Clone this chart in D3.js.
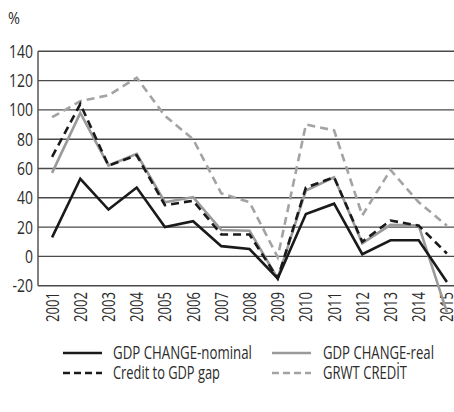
<!DOCTYPE html>
<html>
<head>
<meta charset="utf-8">
<script src="https://cdn.jsdelivr.net/npm/d3@7"></script>
<style>
  html, body { margin: 0; padding: 0; background: #fff; }
  svg { display: block; }
  text { font-family: "Open Sans", "Noto Sans", sans-serif; fill: #2b2b2b; }
</style>
</head>
<body>
<svg id="chart" width="454" height="412"></svg>
<script>
const years = ["2001","2002","2003","2004","2005","2006","2007","2008","2009","2010","2011","2012","2013","2014","2015"];
const gdpNominal = [13, 53, 32, 47, 20, 24, 7, 5, -15, 29, 36, 1.5, 11, 11, -17.5];
const gdpReal    = [57, 98, 62, 70, 37, 40.5, 18, 17.5, -15, 45, 54, 9, 21.5, 21, -38];
const creditGap  = [68, 104, 62, 69, 35, 38, 15, 15, -15, 47, 54, 10, 24.5, 21, 2];
const grwtCredit = [95, 106, 110, 122, 96, 80, 43, 37, -0.5, 90, 86, 28, 59, 37, 21];
const yTicks = [-20, 0, 20, 40, 60, 80, 100, 120, 140];
const seriesNames = ["GDP CHANGE-nominal", "GDP CHANGE-real", "Credit to GDP gap", "GRWT CREDİT"];

const series = [
  { name: seriesNames[0], values: gdpNominal, color: "#1a1a1a", dash: null },
  { name: seriesNames[1], values: gdpReal,    color: "#9a9a9a", dash: null },
  { name: seriesNames[2], values: creditGap,  color: "#1a1a1a", dash: "8,5" },
  { name: seriesNames[3], values: grwtCredit, color: "#a3a3a3", dash: "8,5" }
];

const svg = d3.select("#chart");
const plotLeft = 38, plotRight = 461, plotTop = 51.3, plotBottom = 285.7;

const x = d3.scalePoint().domain(years).range([plotLeft, plotRight]).padding(0.5);
const y = d3.scaleLinear().domain([-20, 140]).range([plotBottom, plotTop]);

// helper: measure a string's width at a font size
function measure(str, size) {
  const t = svg.append("text").attr("font-size", size).text(str);
  const w = t.node().getComputedTextLength();
  t.remove();
  return w;
}

// gridlines
svg.append("g").selectAll("line").data(yTicks).join("line")
  .attr("x1", plotLeft).attr("x2", plotRight)
  .attr("y1", d => y(d)).attr("y2", d => y(d))
  .attr("stroke", "#4a4a4a").attr("stroke-width", 1.4);

// left axis line
svg.append("line").attr("x1", plotLeft).attr("x2", plotLeft)
  .attr("y1", y(140)).attr("y2", y(-20))
  .attr("stroke", "#4a4a4a").attr("stroke-width", 1.4);

// y tick labels (condensed)
const yFont = 18;
const ySx = 24 / measure("140", yFont);
svg.append("g").selectAll("text").data(yTicks).join("text")
  .attr("transform", d => `translate(33,${y(d)}) scale(${ySx},1)`)
  .attr("dy", "0.36em")
  .attr("text-anchor", "end")
  .attr("font-size", yFont)
  .text(d => d);

// % label
const pSx = 12 / measure("%", 17);
svg.append("text").attr("transform", `translate(8,24) scale(${pSx},1)`)
  .attr("font-size", 17).text("%");

// x tick labels (rotated, condensed)
const xFont = 18;
const xSx = 30 / measure("2001", xFont);
svg.append("g").selectAll("text").data(years).join("text")
  .attr("transform", d => `translate(${x(d)},292) rotate(-90) scale(${xSx},1)`)
  .attr("text-anchor", "end")
  .attr("dy", "0.36em")
  .attr("font-size", xFont)
  .text(d => d);

// lines
const line = d3.line().x((d, i) => x(years[i])).y(d => y(d));
const drawOrder = [3, 1, 2, 0];
drawOrder.forEach(k => {
  const s = series[k];
  svg.append("path")
    .attr("d", line(s.values))
    .attr("fill", "none")
    .attr("stroke", s.color)
    .attr("stroke-width", 2.6)
    .attr("stroke-linejoin", "miter")
    .attr("stroke-dasharray", s.dash);
});

// legend
const legendFont = 18;
const legendPos = [
  { lx: 63, tx: 113, y: 353, w: 139 },
  { lx: 272, tx: 323, y: 353, w: 111 },
  { lx: 63, tx: 113, y: 373, w: 107 },
  { lx: 272, tx: 323, y: 373, w: 84 }
];
series.forEach((s, i) => {
  const p = legendPos[i];
  svg.append("line")
    .attr("x1", p.lx).attr("x2", p.lx + 39)
    .attr("y1", p.y).attr("y2", p.y)
    .attr("stroke", s.color).attr("stroke-width", 2.6)
    .attr("stroke-dasharray", s.dash ? "7,4" : null);
  const sx = p.w / measure(s.name, legendFont);
  svg.append("text")
    .attr("transform", `translate(${p.tx},${p.y}) scale(${sx},1)`)
    .attr("dy", "0.36em")
    .attr("font-size", legendFont)
    .text(s.name);
});
</script>
</body>
</html>
